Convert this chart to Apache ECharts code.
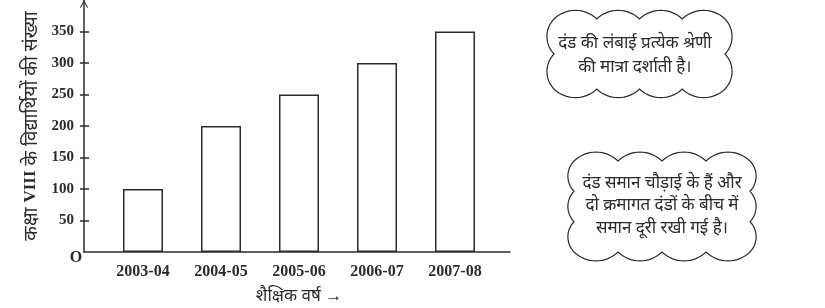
<!DOCTYPE html>
<html>
<head>
<meta charset="utf-8">
<script src="https://cdn.jsdelivr.net/npm/echarts@6/dist/echarts.min.js"></script>
<style>
html,body{margin:0;padding:0;background:#fff;}
#chart{width:825px;height:308px;}
</style>
</head>
<body>
<div id="chart"></div>
<script>
const categories = ['2003-04', '2004-05', '2005-06', '2006-07', '2007-08'];
const students = [100, 200, 250, 300, 350];
const yTicks = [50, 100, 150, 200, 250, 300, 350];
const yAxisName = 'कक्षा {v|VIII} के विद्यार्थियों की संख्या';
const xAxisName = 'शैक्षिक वर्ष →';
const note1 = ['दंड की लंबाई प्रत्येक श्रेणी', 'की मात्रा दर्शाती है।'];
const note2 = ['दंड समान चौड़ाई के हैं और', 'दो क्रमागत दंडों के बीच में', 'समान दूरी रखी गई है।'];

const INK = '#2b2b2b';
const serif = '"Liberation Serif", "DejaVu Serif", serif';
const sans = '"Noto Sans", "Noto Sans Devanagari", sans-serif';

// scalloped cloud outline as a polygon (decoration only)
function cloudPoints(x0, y0, x1, y1, nx, ny) {
  const corners = [];
  for (let i = 0; i < nx; i++) corners.push([x0 + (x1 - x0) * i / nx, y0]);
  for (let j = 0; j < ny; j++) corners.push([x1, y0 + (y1 - y0) * j / ny]);
  for (let i = 0; i < nx; i++) corners.push([x1 - (x1 - x0) * i / nx, y1]);
  for (let j = 0; j < ny; j++) corners.push([x0, y1 - (y1 - y0) * j / ny]);
  const out = [];
  for (let k = 0; k < corners.length; k++) {
    const a = corners[k], b = corners[(k + 1) % corners.length];
    const dx = b[0] - a[0], dy = b[1] - a[1];
    const c = Math.hypot(dx, dy);
    const r = c * 0.72;
    const nxv = dy / c, nyv = -dx / c;
    const h = Math.sqrt(r * r - c * c / 4);
    const cx = (a[0] + b[0]) / 2 - nxv * h, cy = (a[1] + b[1]) / 2 - nyv * h;
    const aa = Math.atan2(a[1] - cy, a[0] - cx);
    let ab = Math.atan2(b[1] - cy, b[0] - cx);
    while (ab <= aa) ab += Math.PI * 2;
    const steps = 16;
    for (let s = 0; s < steps; s++) {
      const t = aa + (ab - aa) * s / steps;
      out.push([cx + r * Math.cos(t), cy + r * Math.sin(t)]);
    }
  }
  return out;
}

function noteTexts(lines, cx, y0, dy) {
  return lines.map((t, i) => ({
    type: 'text', z: 10,
    style: { text: t, x: cx, y: y0 + i * dy, align: 'center', verticalAlign: 'middle',
      font: '17px ' + sans, fill: INK }
  }));
}

const chart = echarts.init(document.getElementById('chart'));
chart.setOption({
  animation: false,
  grid: [
    { left: 84, top: 0, width: 426, height: 252, containLabel: false, outerBoundsMode: 'none' },
    { left: 104, top: 0, width: 390, height: 252, containLabel: false, outerBoundsMode: 'none' }
  ],
  xAxis: [
    { gridIndex: 0, type: 'value', min: 0, max: 1,
      axisLine: { show: true, lineStyle: { color: INK, width: 1.5 } },
      axisTick: { show: false }, axisLabel: { show: false }, splitLine: { show: false } },
    { gridIndex: 1, type: 'category', data: categories,
      axisLine: { show: false }, axisTick: { show: false },
      axisLabel: { margin: 12, color: INK, fontFamily: serif, fontWeight: 'bold', fontSize: 16 },
      name: xAxisName, nameLocation: 'middle', nameGap: 36,
      nameTextStyle: { color: INK, fontFamily: sans, fontSize: 17 } }
  ],
  yAxis: [
    { gridIndex: 0, type: 'value', position: 'left', min: 0, max: 400, interval: 50,
      axisLine: { show: true, lineStyle: { color: INK, width: 1.5 },
        symbol: ['none', 'path://M5,0 L10,9 L9,10 L5,2.5 L1,10 L0,9 Z'],
        symbolSize: [9, 8], symbolOffset: [0, -4] },
      axisTick: { show: true, length: 4, customValues: yTicks, lineStyle: { color: INK, width: 1.5 } },
      axisLabel: { customValues: yTicks, margin: 10, color: INK, fontFamily: serif, fontWeight: 'bold', fontSize: 15 },
      splitLine: { show: false },
      name: yAxisName, nameLocation: 'middle', nameGap: 40,
      nameTextStyle: { color: INK, fontFamily: sans, fontSize: 19,
        rich: { v: { fontFamily: serif, fontWeight: 'bold', fontSize: 17, color: INK } } } },
    { gridIndex: 0, type: 'value', position: 'left', offset: 0, min: 0, max: 400, interval: 50,
      axisLine: { show: false },
      axisTick: { show: true, inside: true, length: 5, customValues: yTicks, lineStyle: { color: INK, width: 1.5 } },
      axisLabel: { show: false }, splitLine: { show: false } },
    { gridIndex: 1, type: 'value', min: 0, max: 400, show: false }
  ],
  series: [{
    type: 'bar', xAxisIndex: 1, yAxisIndex: 2, data: students, barWidth: 40,
    itemStyle: { color: '#fff', borderColor: INK, borderWidth: 1.5 }
  }],
  graphic: [
    { type: 'text', style: { text: 'O', x: 76, y: 258, align: 'center', verticalAlign: 'middle',
        font: 'bold 16px ' + serif, fill: INK } },
    { type: 'polygon', shape: { points: cloudPoints(554, 19, 725, 89, 4, 2) },
      style: { fill: '#fff', stroke: INK, lineWidth: 1.2 } },
    ...noteTexts(note1, 635, 43, 24),
    { type: 'polygon', shape: { points: cloudPoints(574, 161, 750, 252, 4, 3) },
      style: { fill: '#fff', stroke: INK, lineWidth: 1.2 } },
    ...noteTexts(note2, 662, 183, 22.5)
  ]
});
</script>
</body>
</html>
